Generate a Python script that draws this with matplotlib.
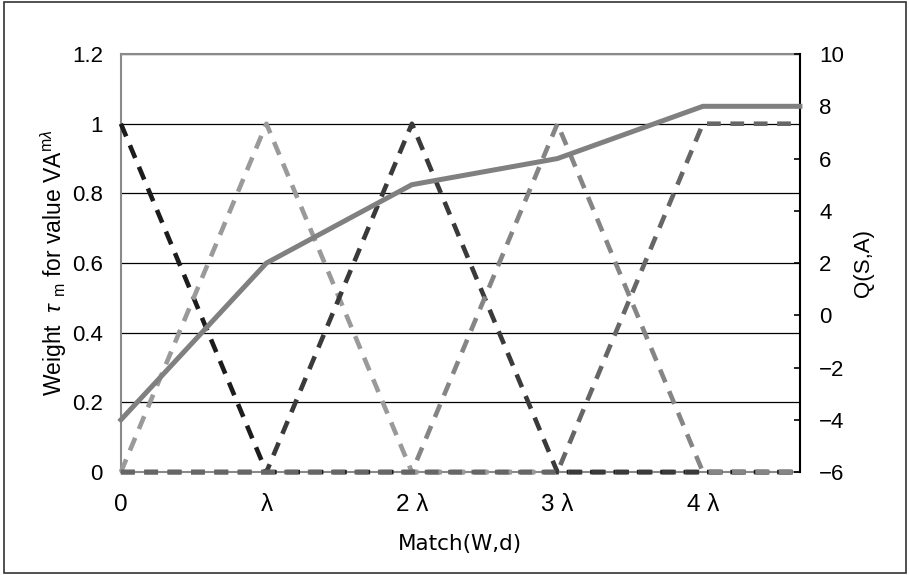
"""Triangular weights over Match(W,d) together with the resulting Q(S,A)."""

import matplotlib

matplotlib.use("Agg")
import matplotlib.pyplot as plt
from matplotlib.ticker import FuncFormatter

plt.rcParams["font.family"] = ["Liberation Sans", "Noto Sans CJK JP", "DejaVu Sans"]
plt.rcParams["mathtext.fontset"] = "custom"
plt.rcParams["mathtext.rm"] = "Liberation Sans"
plt.rcParams["mathtext.it"] = "Liberation Sans:italic"
plt.rcParams["axes.unicode_minus"] = True

NARROW = ["Liberation Sans Narrow", "Liberation Sans", "DejaVu Sans"]

# break points along Match(W,d), in units of lambda (axis ends at 14/3)
match_x = [0, 1, 2, 3, 4, 14 / 3]

# weights tau_m of the five membership functions
weight_0 = [1, 0, 0, 0, 0, 0]
weight_1 = [0, 1, 0, 0, 0, 0]
weight_2 = [0, 0, 1, 0, 0, 0]
weight_3 = [0, 0, 0, 1, 0, 0]
weight_4 = [0, 0, 0, 0, 1, 1]

# interpolated value Q(S,A)
q_value = [-4, 2, 5, 6, 8, 8]

x_ticks = [0, 1, 2, 3, 4]
x_labels = ["0", "λ", "2 λ", "3 λ", "4 λ"]

weights = [weight_0, weight_1, weight_2, weight_3, weight_4]
colors = ["#1c1c1c", "#9a9a9a", "#3a3a3a", "#858585", "#666666"]

fig = plt.figure(figsize=(9.09, 5.75), dpi=100)
fig.patches.append(plt.Rectangle((0.004, 0.003), 0.993, 0.994, transform=fig.transFigure,
                                 fill=False, edgecolor="#333333", linewidth=1.2))
ax = fig.add_axes([0.133, 0.179, 0.747, 0.727])

for w, c in zip(weights, colors):
    ax.plot(match_x, w, color=c, linewidth=3.3, dashes=(3.0, 2.1),
            dash_capstyle="butt", clip_on=False, zorder=3)

ax.set_xlim(0, 14 / 3)
ax.set_ylim(0, 1.2)
ax.set_yticks([0, 0.2, 0.4, 0.6, 0.8, 1.0, 1.2])
ax.yaxis.set_major_formatter(FuncFormatter(lambda v, _: f"{v:g}"))
ax.set_xticks(x_ticks)
ax.set_xticklabels(x_labels, fontsize=17.5, family=NARROW)
ax.tick_params(axis="y", length=0, labelsize=16, pad=13)
ax.tick_params(axis="x", length=0, pad=16)
ax.grid(axis="y", color="black", linewidth=0.9)
ax.set_axisbelow(True)
for side in ("left", "top", "bottom"):
    ax.spines[side].set_color("#8a8a8a")
    ax.spines[side].set_linewidth(1.5)
ax.spines["right"].set_visible(False)

ax.set_xlabel("Match(W,d)", fontsize=15.5, family=["DejaVu Sans"], labelpad=13)
ax.set_ylabel(r"Weight  $\tau$ $_{\rm m}$ for value V$\mathrm{A}^{\mathrm{m}\lambda}$",
              fontsize=16.5, labelpad=2)

ax2 = ax.twinx()
ax2.plot(match_x, q_value, color="#808080", linewidth=3.6, solid_joinstyle="miter",
         clip_on=False, zorder=4)
ax2.set_ylim(-6, 10)
ax2.set_yticks(range(-6, 11, 2))
ax2.tick_params(axis="y", direction="in", length=4, width=1.2, labelsize=16, pad=14)
ax2.spines["right"].set_color("black")
ax2.spines["right"].set_linewidth(1.5)
for side in ("left", "top", "bottom"):
    ax2.spines[side].set_visible(False)
ax2.set_ylabel("Q(S,A)", fontsize=16, labelpad=6)

fig.savefig("out.png", dpi=100)
